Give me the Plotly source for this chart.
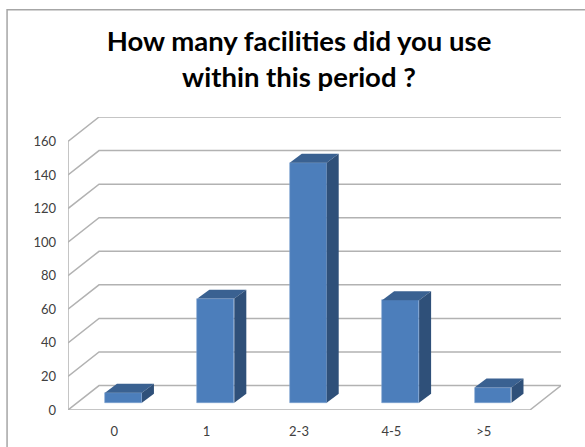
import plotly.graph_objects as go

categories = ["0", "1", "2-3", "4-5", ">5"]
counts = [6, 62, 143, 61, 9]
y_ticks = [0, 20, 40, 60, 80, 100, 120, 140, 160]
title_text = "How many facilities did you use<br>within this period ?"

W, H = 585, 447
L, R, T, B = 67.5, 24, 116.5, 37
DX, DY = 0.336, 14.55          # wall depth, in axis units
BAR_W, BAR_GAP_X, BAR_GAP_Y = 0.4, 0.1, 4.35
BAR_DX, BAR_DY = 0.13, 5.35    # bar depth, in axis units
x0, x1 = -0.5, len(categories) - 0.5
GRID = "#b2b2b2"

fig = go.Figure()

front_x = [i + BAR_GAP_X for i in range(len(categories))]
fig.add_trace(go.Bar(x=front_x, y=counts, base=BAR_GAP_Y, width=BAR_W,
                     marker=dict(color="#4c7ebb", line=dict(color="#7ea3d2", width=0.6)),
                     showlegend=False, hoverinfo="skip"))

for cx, v in zip(front_x, counts):
    l, r = cx - BAR_W / 2, cx + BAR_W / 2
    lo, hi = BAR_GAP_Y, BAR_GAP_Y + v
    fig.add_trace(go.Scatter(x=[l, r, r + BAR_DX, l + BAR_DX, l],
                             y=[hi, hi, hi + BAR_DY, hi + BAR_DY, hi],
                             fill="toself", fillcolor="#3a6191", mode="none",
                             showlegend=False, hoverinfo="skip"))
    fig.add_trace(go.Scatter(x=[r, r + BAR_DX, r + BAR_DX, r, r],
                             y=[lo, lo + BAR_DY, hi + BAR_DY, hi, lo],
                             fill="toself", fillcolor="#2f5079", mode="none",
                             showlegend=False, hoverinfo="skip"))

grid_line = dict(color=GRID, width=1.5)
shapes = []
for v in y_ticks:
    path = f"M {x0} {v} L {x0 + DX} {v + DY} L {x1 + DX} {v + DY}"
    shapes.append(dict(type="path", path=path, xref="x", yref="y", layer="below", line=grid_line))
# left wall edge and floor front edge
shapes.append(dict(type="path", xref="x", yref="y", layer="below", line=grid_line,
                   path=f"M {x0} {y_ticks[-1]} L {x0} 0 L {x1} 0 L {x1 + DX} {DY}"))
# picture frame
frame = dict(color="#a6a6a6", width=1.5)
shapes.append(dict(type="path", xref="paper", yref="paper", layer="below", line=frame,
                   path=f"M {(6.5 - L) / (W - L - R)} {-B / (H - T - B)} "
                        f"L {(6.5 - L) / (W - L - R)} {(H - 9 - B) / (H - T - B)} "
                        f"L {(W - L) / (W - L - R)} {(H - 9 - B) / (H - T - B)}"))

fig.update_layout(
    width=W, height=H, autosize=False,
    margin=dict(l=L, r=R, t=T, b=B, pad=0),
    paper_bgcolor="white", plot_bgcolor="white",
    font=dict(family="Lato, Carlito, sans-serif", size=13, color="#404040"),
    title=dict(text=title_text, x=299 / W, xanchor="center", y=1 - 51 / H, yanchor="middle",
               font=dict(family="Lato, sans-serif", size=27.5, color="black", weight="bold")),
    xaxis=dict(range=[x0, x1 + DX], tickmode="array", tickvals=list(range(len(categories))),
               ticktext=categories, showgrid=False, zeroline=False, showline=False, ticks="",
               ticklabelstandoff=12, fixedrange=True, automargin=False),
    yaxis=dict(range=[0, 160 + DY], tickmode="array", tickvals=y_ticks, showgrid=False,
               zeroline=False, showline=False, ticks="", ticklabelstandoff=11, fixedrange=True,
               automargin=False),
    shapes=shapes,
    bargap=0,
)

fig.write_html("out.html", config={"displayModeBar": False},
               post_script="document.body.style.margin='0';document.body.style.overflow='hidden';")
